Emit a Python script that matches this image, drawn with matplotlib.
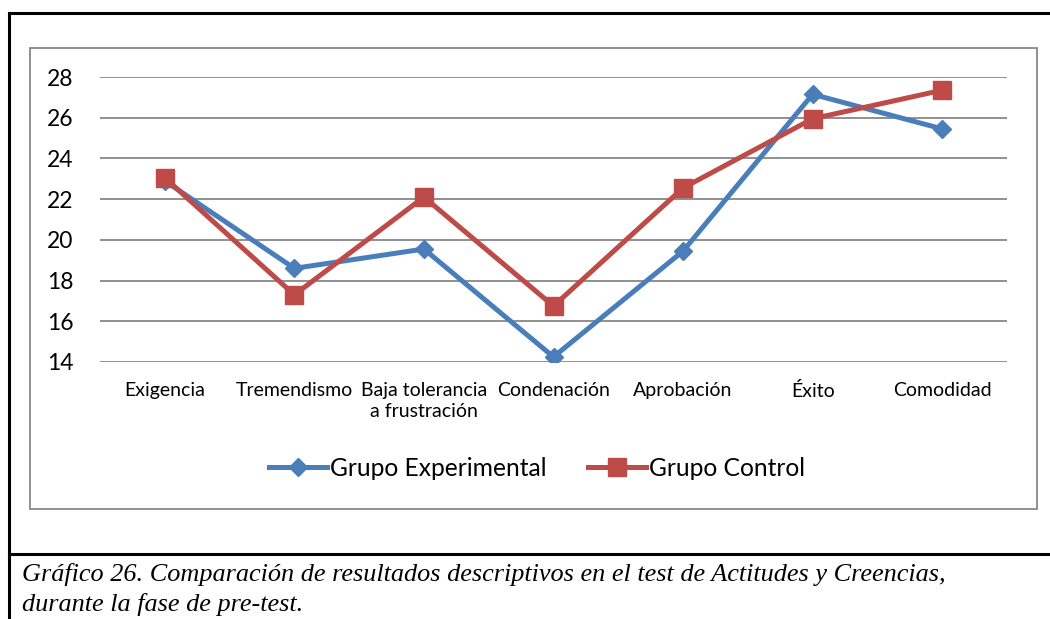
import matplotlib.pyplot as plt
from matplotlib.lines import Line2D

categorias = ["Exigencia", "Tremendismo", "Baja tolerancia\na frustración",
              "Condenación", "Aprobación", "Éxito", "Comodidad"]
experimental = [22.9, 18.6, 19.55, 14.25, 19.45, 27.15, 25.45]
control = [23.05, 17.3, 22.1, 16.75, 22.55, 25.95, 27.35]
yticks = [14, 16, 18, 20, 22, 24, 26, 28]

azul = "#4a7ebb"
rojo = "#be4b48"
gris = "#878787"

W, H = 1050, 619
fig = plt.figure(figsize=(W / 100, H / 100), dpi=100)

def fx(px):
    return px / W

def fy(py):
    return 1 - py / H

# marco negro del documento
for xs, ys in [((8.5, W), (13, 13)), ((8.5, 8.5), (13, H)), ((8.5, W), (554, 554))]:
    fig.add_artist(Line2D([fx(x) for x in xs], [fy(y) for y in ys],
                          color="black", linewidth=2.2))

# recuadro gris del grafico
fig.add_artist(plt.Rectangle((fx(30), fy(509)), fx(1037 - 30), (509 - 48) / H,
                             fill=False, edgecolor=gris, linewidth=1.3))

ax = fig.add_axes([fx(100), fy(362), fx(1007 - 100), (362 - 77) / H])
x = list(range(len(categorias)))
ax.plot(x, experimental, color=azul, linewidth=3.6, marker="D", markersize=9.5,
        label="Grupo Experimental", zorder=3)
ax.plot(x, control, color=rojo, linewidth=3.6, marker="s", markersize=13.5,
        label="Grupo Control", zorder=3)

ax.set_xlim(-0.5, len(categorias) - 0.5)
ax.set_ylim(14, 28)
ax.set_yticks(yticks)
ax.set_yticklabels([str(v) for v in yticks], fontsize=16.5, family="Lato")
ax.set_xticks(x)
ax.set_xticklabels(categorias, fontsize=14, family="Lato", linespacing=1.3)
ax.tick_params(length=0)
ax.tick_params(axis="x", pad=14.5)
ax.tick_params(axis="y", pad=19)
ax.grid(axis="y", color=gris, linewidth=1.3)
for s in ax.spines.values():
    s.set_visible(False)
ax.set_axisbelow(True)

ax.legend(loc="center", bbox_to_anchor=(fx(537), fy(468)), bbox_transform=fig.transFigure,
          ncol=2, frameon=False, prop={"family": "Lato", "size": 17.7},
          handlelength=2.36, handletextpad=0.12, columnspacing=1.67)

fig.text(fx(22), fy(575), "Gráfico 26. Comparación de resultados descriptivos en el test de "
         "Actitudes y Creencias,", family="Liberation Serif", style="italic",
         fontsize=18.9, va="center")
fig.text(fx(22), fy(605), "durante la fase de pre-test.", family="Liberation Serif",
         style="italic", fontsize=18.9, va="center")

fig.savefig("out.png", dpi=100)
